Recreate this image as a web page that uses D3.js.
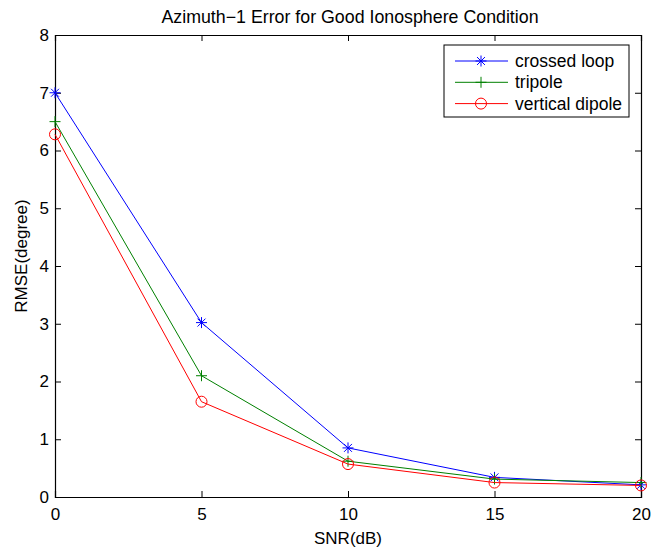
<!DOCTYPE html>
<html>
<head>
<meta charset="utf-8">
<script src="https://cdn.jsdelivr.net/npm/d3@7"></script>
<style>
  body { margin: 0; background: #fff; }
  svg { display: block; font-family: "Liberation Sans", Arial, sans-serif; }
</style>
</head>
<body>
<svg width="653" height="549"></svg>
<script>
// Data
const snr = [0, 5, 10, 15, 20];
const crossedLoop = [7.0, 3.02, 0.85, 0.34, 0.21];
const tripole = [6.5, 2.1, 0.62, 0.31, 0.25];
const verticalDipole = [6.28, 1.65, 0.57, 0.25, 0.2];
const xTicks = [0, 5, 10, 15, 20];
const yTicks = [0, 1, 2, 3, 4, 5, 6, 7, 8];

const series = [
  { name: "crossed loop", values: crossedLoop, color: "#0000ff", marker: "star" },
  { name: "tripole", values: tripole, color: "#008000", marker: "plus" },
  { name: "vertical dipole", values: verticalDipole, color: "#ff0000", marker: "circle" }
];

const margin = { top: 35, right: 12, bottom: 52, left: 55 },
      width = 653 - margin.left - margin.right,
      height = 549 - margin.top - margin.bottom;

const svg = d3.select("svg");
const g = svg.append("g").attr("transform", `translate(${margin.left},${margin.top})`);

const x = d3.scaleLinear().domain([0, 20]).range([0, width]);
const y = d3.scaleLinear().domain([0, 8]).range([height, 0]);

// Axes (inward ticks, mirrored)
const tickLen = 6;
const xAxis = g.append("g").attr("transform", `translate(0,${height})`)
  .call(d3.axisBottom(x).tickValues(xTicks).tickSize(-tickLen).tickPadding(11).tickFormat(d3.format("d")));
const xTop = g.append("g")
  .call(d3.axisTop(x).tickValues(xTicks).tickSize(-tickLen).tickFormat(""));
const yAxis = g.append("g")
  .call(d3.axisLeft(y).tickValues(yTicks).tickSize(-tickLen).tickPadding(6).tickFormat(d3.format("d")));
const yRight = g.append("g").attr("transform", `translate(${width},0)`)
  .call(d3.axisRight(y).tickValues(yTicks).tickSize(-tickLen).tickFormat(""));

[xAxis, xTop, yAxis, yRight].forEach(a => {
  a.select(".domain").attr("stroke", "#000").attr("stroke-width", 1.2);
  a.selectAll(".tick line").attr("stroke", "#000");
  a.selectAll("text").attr("fill", "#000").style("font-size", "17px");
});

// Lines
const line = d3.line().x((d, i) => x(snr[i])).y(d => y(d));

function drawMarker(sel, type, color, cx, cy) {
  if (type === "circle") {
    sel.append("circle").attr("cx", cx).attr("cy", cy).attr("r", 5.5)
      .attr("fill", "none").attr("stroke", color).attr("stroke-width", 1);
  } else if (type === "plus") {
    const s = 5.5;
    sel.append("path").attr("d", `M${cx - s},${cy}H${cx + s}M${cx},${cy - s}V${cy + s}`)
      .attr("stroke", color).attr("stroke-width", 1);
  } else {
    const s = 5.5, d = s * 0.72;
    sel.append("path")
      .attr("d", `M${cx - s},${cy}H${cx + s}M${cx},${cy - s}V${cy + s}M${cx - d},${cy - d}L${cx + d},${cy + d}M${cx - d},${cy + d}L${cx + d},${cy - d}`)
      .attr("stroke", color).attr("stroke-width", 1);
  }
}

series.forEach(s => {
  g.append("path").datum(s.values)
    .attr("fill", "none").attr("stroke", s.color).attr("stroke-width", 1)
    .attr("d", line);
  const mg = g.append("g");
  s.values.forEach((v, i) => drawMarker(mg, s.marker, s.color, x(snr[i]), y(v)));
});

// Title and labels
svg.append("text").attr("x", 350).attr("y", 23)
  .attr("text-anchor", "middle").style("font-size", "17.8px")
  .text("Azimuth\u22121 Error for Good Ionosphere Condition");
svg.append("text").attr("x", 348).attr("y", 544)
  .attr("text-anchor", "middle").style("font-size", "17px").text("SNR(dB)");
svg.append("text").attr("transform", "translate(27,256) rotate(-90)")
  .attr("text-anchor", "middle").style("font-size", "17px").text("RMSE(degree)");

// Legend
const lg = svg.append("g").attr("transform", "translate(444,45)");
lg.append("rect").attr("width", 185).attr("height", 72)
  .attr("fill", "#fff").attr("stroke", "#000").attr("stroke-width", 1);
series.forEach((s, i) => {
  const ly = 16 + i * 21.3;
  lg.append("line").attr("x1", 11).attr("x2", 64).attr("y1", ly).attr("y2", ly)
    .attr("stroke", s.color).attr("stroke-width", 1);
  drawMarker(lg, s.marker, s.color, 37, ly);
  lg.append("text").attr("x", 71).attr("y", ly).attr("dy", "0.35em")
    .style("font-size", "17.5px").text(s.name);
});
</script>
</body>
</html>
